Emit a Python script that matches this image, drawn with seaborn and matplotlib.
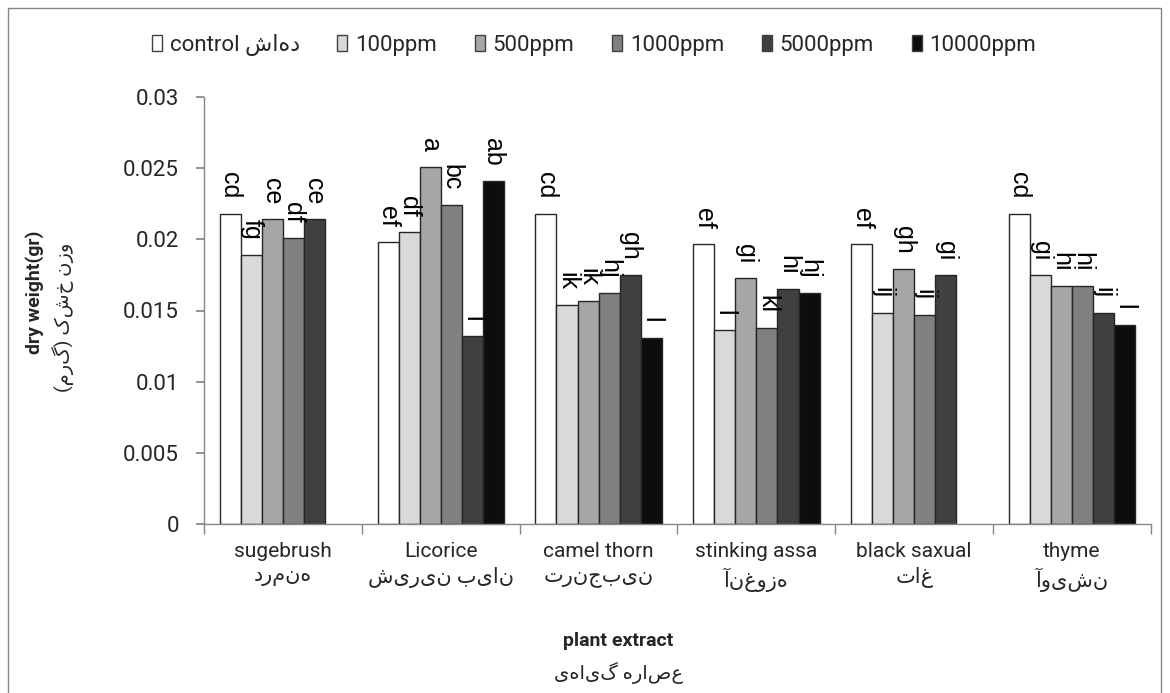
import numpy as np
import pandas as pd
import matplotlib
matplotlib.use("Agg")
import matplotlib.pyplot as plt
import seaborn as sns
from matplotlib.patches import Patch, Rectangle

# categories
plants = ["sugebrush", "Licorice", "camel thorn", "stinking assa", "black saxual", "thyme"]
plants_fa = ["درمنه", "شیرین بیان", "ترنجبین", "آنغوزه", "تاغ", "آویشن"]
doses = ["control", "100ppm", "500ppm", "1000ppm", "5000ppm", "10000ppm"]
legend_labels = ["control شاهد", "100ppm", "500ppm", "1000ppm", "5000ppm", "10000ppm"]

# dry weight (gr) per dose, in plant order (None = no bar)
control = [0.0218, 0.0198, 0.0218, 0.0197, 0.0197, 0.0218]
ppm100 = [0.0189, 0.0205, 0.0154, 0.0136, 0.0148, 0.0175]
ppm500 = [0.0214, 0.0251, 0.0157, 0.0173, 0.0179, 0.0167]
ppm1000 = [0.0201, 0.0224, 0.0162, 0.0138, 0.0147, 0.0167]
ppm5000 = [0.0214, 0.0132, 0.0175, 0.0165, 0.0175, 0.0148]
ppm10000 = [None, 0.0241, 0.0131, 0.0162, None, 0.0140]

# significance letters, same layout
let_control = ["cd", "ef", "cd", "ef", "ef", "cd"]
let_100 = ["fg", "df", "ik", "l", "ij", "gi"]
let_500 = ["ce", "a", "ik", "gi", "gh", "hi"]
let_1000 = ["df", "bc", "hj", "kl", "ij", "hi"]
let_5000 = ["ce", "l", "gh", "hi", "gi", "ij"]
let_10000 = ["", "ab", "l", "hj", "", "l"]

yticks = [0, 0.005, 0.01, 0.015, 0.02, 0.025, 0.03]
ytick_labels = ["0", "0.005", "0.01", "0.015", "0.02", "0.025", "0.03"]

colors = ["#ffffff", "#d9d9d9", "#a6a6a6", "#808080", "#404040", "#0d0d0d"]


def rtl(s):
    # matplotlib has no bidi support: flip the string so it reads right to left
    return s[::-1].translate(str.maketrans("()", ")("))


values = [control, ppm100, ppm500, ppm1000, ppm5000, ppm10000]
letters = [let_control, let_100, let_500, let_1000, let_5000, let_10000]

rows = []
for dose, vals in zip(doses, values):
    for plant, v in zip(plants, vals):
        if v is not None:
            rows.append({"plant": plant, "dose": dose, "weight": v})
df = pd.DataFrame(rows)

sns.set_theme(style="white")
plt.rcParams["font.family"] = ["Roboto", "DejaVu Sans"]

W, H = 1170, 693
fig = plt.figure(figsize=(W / 100, H / 100), dpi=100)
ax = fig.add_axes([204 / W, 1 - 524 / H, (1151 - 204) / W, (524 - 97) / H])

sns.barplot(data=df, x="plant", y="weight", hue="dose", order=plants,
            hue_order=doses, palette=colors, saturation=1, errorbar=None,
            edgecolor="#262626", linewidth=1, width=0.8, legend=False, ax=ax)

# letters above bars, rotated
for i, cont in enumerate(ax.containers):
    for bar in cont:
        h = bar.get_height()
        if np.isnan(h):
            continue
        xc = bar.get_x() + bar.get_width() / 2
        txt = letters[i][int(round(xc))]
        ax.annotate(txt, xy=(xc, h), xytext=(0, 15), textcoords="offset pixels",
                    rotation=270, ha="center", va="bottom", fontsize=18,
                    family=["Liberation Sans", "DejaVu Sans"], color="black")

ax.set_ylim(0, 0.03)
ax.set_xlim(-0.5, len(plants) - 0.5)
ax.set_yticks(yticks)
ax.set_yticklabels(ytick_labels)
ax.set_xticks(range(len(plants)))
# the reference prints these Persian names left to right, so no flip here
ax.set_xticklabels([f"{p}\n{fa}" for p, fa in zip(plants, plants_fa)],
                   fontsize=15, linespacing=1.35)
ax.set_xticks(np.arange(-0.5, len(plants), 1), minor=True)
ax.set_xlabel("")
ax.set_ylabel("")

grey = "#868686"
for s in ["top", "right"]:
    ax.spines[s].set_visible(False)
for s in ["left", "bottom"]:
    ax.spines[s].set_color(grey)
    ax.spines[s].set_linewidth(1)
ax.tick_params(axis="y", left=True, length=6, color=grey, labelsize=16, pad=12)
ax.tick_params(axis="x", which="major", bottom=False, length=0, pad=13)
ax.tick_params(axis="x", which="minor", bottom=True, length=7, color=grey)

# axis titles
fig.text(35 / W, 1 - 292 / H, "dry weight(gr)", rotation=90, ha="center", va="center",
         fontsize=14, fontweight="bold")
fig.text(63 / W, 1 - 317 / H, rtl("وزن خشک (گرم)"), rotation=90, ha="center", va="center",
         fontsize=14)
fig.text(618 / W, 1 - 641 / H, "plant extract", ha="center", va="center",
         fontsize=14, fontweight="bold")
fig.text(618 / W, 1 - 673 / H, rtl("عصاره گیاهی"), ha="center", va="center", fontsize=14)

# legend (the reference shows the Persian word left to right here)
handles = [Patch(facecolor=c, edgecolor="#404040", linewidth=1) for c in colors]
fig.legend(handles, legend_labels, ncol=6, loc="center", bbox_to_anchor=(594 / W, 1 - 45 / H),
           frameon=False, fontsize=16, handlelength=0.45, handleheight=0.75,
           handletextpad=0.35, columnspacing=1.7)

# chart area border
fig.add_artist(Rectangle((8 / W, -0.05), 1153 / W, 1 - 8 / H + 0.05,
                         transform=fig.transFigure, fill=False, edgecolor=grey, lw=1))

fig.savefig("out.png", dpi=100)
